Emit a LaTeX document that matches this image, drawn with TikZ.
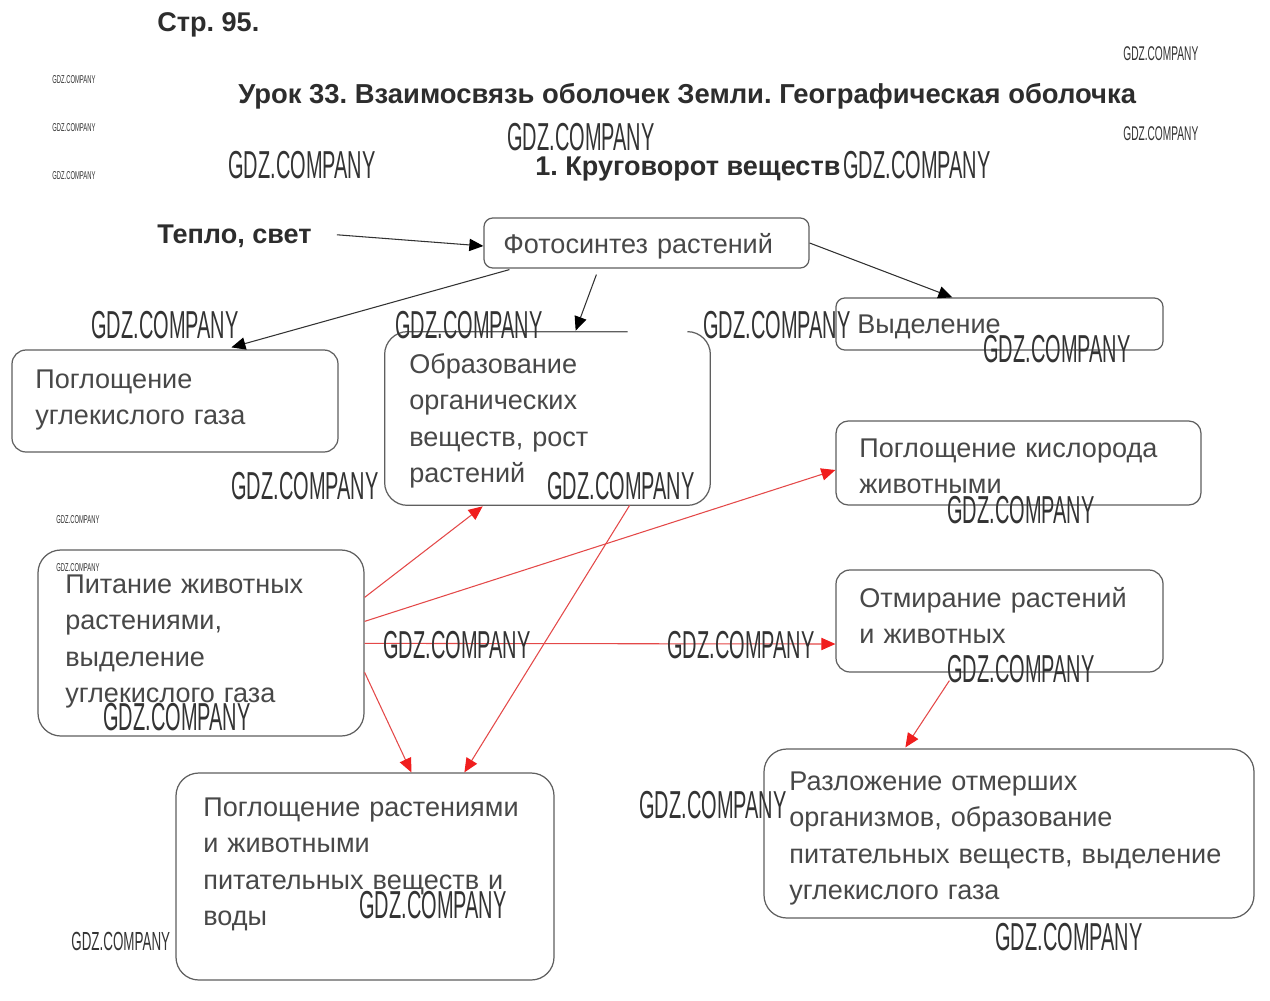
\documentclass[tikz,border=0pt]{standalone}
\usepackage{fontspec}
\usepackage{graphicx}
\setmainfont{Liberation Sans}
\usetikzlibrary{arrows.meta,calc,fit}
\definecolor{boxline}{RGB}{95,95,95}
\definecolor{txtgray}{RGB}{72,72,72}
\definecolor{headtxt}{RGB}{45,45,45}
\definecolor{redline}{RGB}{228,72,72}
\definecolor{redtip}{RGB}{240,30,30}
\definecolor{blkline}{RGB}{50,50,50}
\newcommand\gdzmark[1]{\scalebox{0.512}[1]{\fontsize{#1}{#1}\selectfont GDZ.COMPANY}}
\frenchspacing
\begin{document}
\frenchspacing
\begin{tikzpicture}[x=0.02cm,y=-0.02cm,
  box/.style={draw=boxline, line width=0.7pt, inner sep=0pt},
  plainbox/.style={inner sep=0pt},
  txt/.style={anchor=base west, inner sep=0pt, text=txtgray, align=left, text width=10cm,
    font=\fontsize{15.4}{20.8}\selectfont},
  head/.style={anchor=base west, inner sep=0pt, text=headtxt, font=\fontsize{15.4}{18}\selectfont\bfseries},
  blk/.style={draw=blkline, line width=0.6pt, -{Triangle[length=8pt,width=7pt,color=black]}},
  red/.style={draw=redline, line width=0.6pt, -{Triangle[length=8pt,width=7pt,color=redtip]}},
  wm/.style={anchor=west, inner sep=0pt, text=black!80}
]
\useasboundingbox[fill=white] (0,0) rectangle (1270,1000);

% headings
\node[head] (page) at (157,32) {Стр. 95.};
\node[head, font=\fontsize{15.6}{18}\selectfont\bfseries] (title) at (238,104) {Урок 33. Взаимосвязь оболочек Земли. Географическая оболочка};
\node[head] (sub) at (535,175) {1. Круговорот веществ};
\node[head] (heat) at (157,243) {Тепло, свет};

% boxes
\node[box, rounded corners=5pt, fit={(484,218) (809,268)}] (photo) {};
\node[box, rounded corners=5pt, fit={(836,298) (1163,350)}] (excr) {};
\node[box, rounded corners=8pt, fit={(12,350) (338,452)}] (absorb) {};
\node[plainbox, fit={(385,332) (710,505)}] (org) {};
\draw[boxline, line width=0.7pt, rounded corners=13pt]
  ($(org.north west)+(243,0)$) -- (org.north west) -- (org.south west) -- (org.south east)
  -- (org.north east) -- ($(org.north east)+(-22,0)$);
\node[box, rounded corners=7pt, fit={(836,421) (1201,505)}] (oxy) {};
\node[box, rounded corners=13pt, fit={(38,550) (364,736)}] (feed) {};
\node[box, rounded corners=8pt, fit={(836,570) (1163,672)}] (mort) {};
\node[box, rounded corners=13pt, fit={(176,773) (554,980)}] (absorbb) {};
\node[box, rounded corners=13pt, fit={(764,749) (1254,918)}] (decomp) {};

% texts
\node[txt] (tphoto) at (503,253) {Фотосинтез растений};
\node[txt] (texcr) at (857,333) {Выделение};
\node[txt] (tabsorb) at (35,388) {Поглощение\\углекислого газа};
\node[txt] (torg) at (409,373) {Образование\\органических\\веществ, рост\\растений};
\node[txt] (toxy) at (859,457) {Поглощение кислорода\\животными};
\node[txt] (tfeed) at (65,593) {Питание животных\\растениями,\\выделение\\углекислого газа};
\node[txt] (tmort) at (859,607) {Отмирание растений\\и животных};
\node[txt] (tabsorbb) at (203,816) {Поглощение растениями\\и животными\\питательных веществ и\\воды};
\node[txt] (tdecomp) at (789,790) {Разложение отмерших\\организмов, образование\\питательных веществ, выделение\\углекислого газа};

% black arrows
\draw[blk] ($(heat.east)+(25,-1)$) -- ($(photo.west)+(0,3)$);
\draw[blk] ($(photo.south west)+(26,1)$) -- ($(absorb.north west)+(220,-2)$);
\draw[blk] ($(photo.south west)+(113,6)$) -- ($(org.north west)+(191,-1)$);
\draw[blk] (photo.east) -- ($(excr.north west)+(117,0)$);

% red arrows
\draw[red] ($(feed.north east)+(0,48)$) -- ($(org.south west)+(98,1)$);
\draw[red] ($(feed.north east)+(0,72)$) -- ($(oxy.west)+(0,7)$);
\draw[red] ($(feed.north east)+(0,94)$) -- ($(mort.west)+(0,23)$);
\draw[red] ($(feed.north east)+(0,123)$) -- ($(absorbb.north west)+(236,0)$);
\draw[red] ($(org.south west)+(245,0)$) -- ($(absorbb.north west)+(289,0)$);
\draw[red] ($(mort.south west)+(114,8)$) -- ($(decomp.north west)+(142,-1)$);

% watermarks
\node[wm] (wm1) at (507,137) {\gdzmark{22.2}};
\node[wm] (wm2) at (228,165) {\gdzmark{22.2}};
\node[wm] (wm3) at (843,165) {\gdzmark{22.2}};
\node[wm] (wm4) at (91,325) {\gdzmark{22.2}};
\node[wm] (wm5) at (395,325) {\gdzmark{22.2}};
\node[wm] (wm6) at (703,325) {\gdzmark{22.2}};
\node[wm] (wm7) at (983,349) {\gdzmark{22.2}};
\node[wm] (wm8) at (231,486) {\gdzmark{22.2}};
\node[wm] (wm9) at (547,486) {\gdzmark{22.2}};
\node[wm] (wm10) at (947,510) {\gdzmark{22.2}};
\node[wm] (wm11) at (383,645) {\gdzmark{22.2}};
\node[wm] (wm12) at (667,645) {\gdzmark{22.2}};
\node[wm] (wm13) at (947,669) {\gdzmark{22.2}};
\node[wm] (wm14) at (103,717) {\gdzmark{22.2}};
\node[wm] (wm15) at (639,805) {\gdzmark{22.2}};
\node[wm] (wm16) at (359,905) {\gdzmark{22.2}};
\node[wm] (wm17) at (995,937) {\gdzmark{22.2}};
\node[wm] (wm18) at (71,941) {\gdzmark{14.9}};
\node[wm] (wm19) at (1123,54) {\gdzmark{11.3}};
\node[wm] (wm20) at (1123,134) {\gdzmark{11.3}};
\node[wm] (wm21) at (52,80) {\gdzmark{6.5}};
\node[wm] (wm22) at (52,128) {\gdzmark{6.5}};
\node[wm] (wm23) at (52,176) {\gdzmark{6.5}};
\node[wm] (wm24) at (56,520) {\gdzmark{6.5}};
\node[wm] (wm25) at (56,568) {\gdzmark{6.5}};
\end{tikzpicture}
\end{document}
